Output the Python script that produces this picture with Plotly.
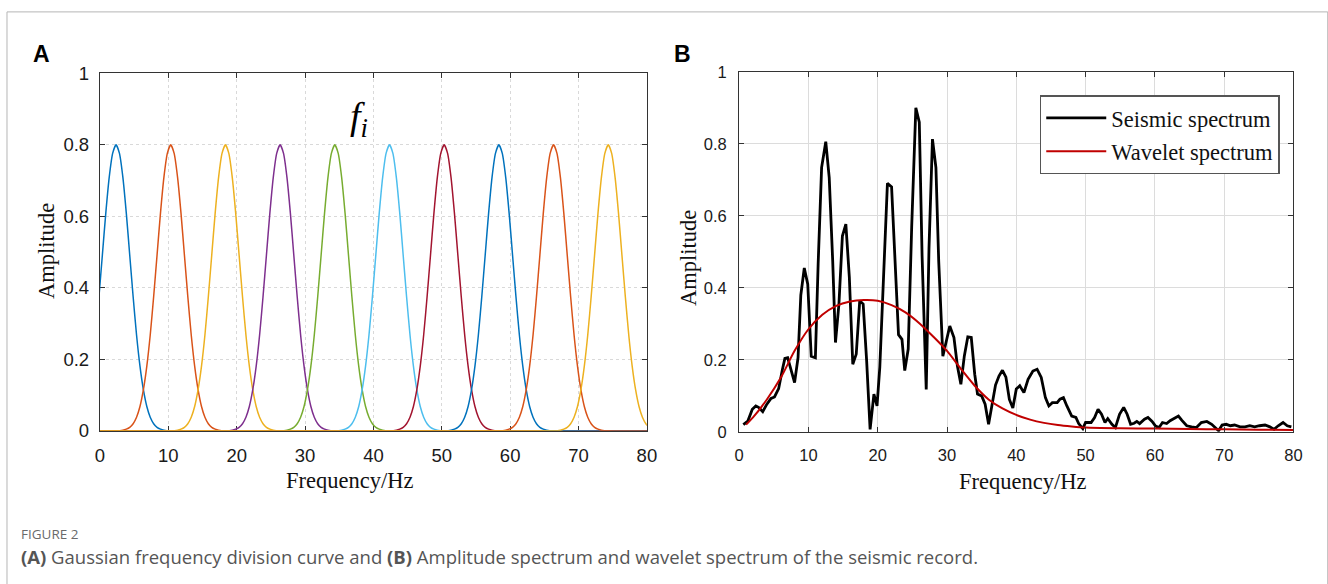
import plotly.graph_objects as go

# ---------------- Data ----------------
# Panel A: Gaussian frequency-division curves (centres)
gauss_centers = [2.35, 10.35, 18.35, 26.35, 34.35, 42.35, 50.35, 58.35, 66.35, 74.35]
gauss_colors = ["#0072BD", "#D95319", "#EDB120", "#7E2F8E", "#77AC30",
                "#4DBEEE", "#A2142F", "#0072BD", "#D95319", "#EDB120"]
# shape of one curve: offset from centre (Hz) -> amplitude
profile_offsets = [-8, -7, -6.5, -6, -5.5, -5, -4.5, -4, -3.5, -3, -2.5, -2, -1.5, -1, -0.5, 0,
                   0.5, 1, 1.5, 2, 2.5, 3, 3.5, 4, 4.5, 5, 5.5, 6, 6.5, 7, 8]
profile_values = [0.0, 0.002, 0.005, 0.010, 0.020, 0.038, 0.068, 0.115, 0.181, 0.268, 0.375, 0.492,
                  0.609, 0.709, 0.776, 0.800, 0.776, 0.709, 0.609, 0.492, 0.375, 0.268, 0.181,
                  0.115, 0.068, 0.038, 0.020, 0.010, 0.005, 0.002, 0.0]

# Panel B: seismic amplitude spectrum
seis_x = [0.6, 1.25, 1.9, 2.4, 2.8, 3.4, 4.0, 4.6, 5.1, 5.7, 6.25, 6.6, 7.0, 7.5, 8.0, 8.5, 8.9,
          9.4, 9.9, 10.4, 11.0, 11.4, 11.9, 12.5, 13.0, 13.5, 13.9, 14.4, 14.9, 15.4, 15.9, 16.4,
          16.9, 17.4, 17.9, 18.4, 18.9, 19.45, 19.9, 20.3, 20.8, 21.4, 22.0, 22.5, 23.0, 23.5,
          23.9, 24.4, 24.9, 25.5, 26.0, 26.4, 27.0, 27.4, 27.9, 28.4, 28.8, 29.4, 29.9, 30.4,
          31.0, 31.5, 32.0, 32.5, 33.0, 33.5, 34.0, 34.4, 35.0, 35.5, 36.0, 36.5, 37.0, 37.5,
          38.0, 38.5, 39.0, 39.5, 40.0, 40.5, 41.1, 41.7, 42.4, 43.0, 43.6, 44.2, 44.7, 45.2,
          45.9, 46.3, 46.8, 47.3, 48.0, 48.6, 49.0, 49.6, 50.0, 50.8, 51.3, 51.8, 52.3, 52.8,
          53.2, 53.8, 54.3, 54.9, 55.5, 56.0, 56.5, 57.0, 57.4, 57.8, 58.5, 59.0, 59.6, 60.1,
          60.6, 61.1, 61.7, 62.2, 62.6, 63.4, 63.9, 64.6, 65.3, 66.0, 66.7, 67.5, 68.2, 68.9,
          69.2, 69.7, 70.3, 70.9, 71.5, 72.3, 73.0, 73.7, 74.4, 75.1, 75.9, 76.6, 77.2, 77.8,
          78.5, 79.1, 79.7]
seis_y = [0.020, 0.030, 0.063, 0.072, 0.068, 0.056, 0.077, 0.093, 0.097, 0.120, 0.174, 0.204,
          0.206, 0.170, 0.137, 0.206, 0.380, 0.455, 0.410, 0.210, 0.206, 0.466, 0.734, 0.806,
          0.706, 0.475, 0.248, 0.355, 0.544, 0.577, 0.430, 0.188, 0.216, 0.364, 0.355, 0.197,
          0.007, 0.105, 0.072, 0.180, 0.400, 0.690, 0.680, 0.475, 0.270, 0.257, 0.170, 0.230,
          0.568, 0.900, 0.860, 0.490, 0.118, 0.510, 0.813, 0.734, 0.475, 0.210, 0.250, 0.294,
          0.262, 0.183, 0.132, 0.211, 0.264, 0.262, 0.160, 0.105, 0.100, 0.077, 0.021, 0.080,
          0.130, 0.155, 0.171, 0.152, 0.090, 0.066, 0.119, 0.128, 0.109, 0.146, 0.169, 0.174,
          0.151, 0.095, 0.072, 0.081, 0.081, 0.091, 0.095, 0.072, 0.044, 0.040, 0.023, 0.009,
          0.026, 0.026, 0.040, 0.063, 0.049, 0.026, 0.037, 0.021, 0.012, 0.049, 0.068, 0.049,
          0.021, 0.024, 0.029, 0.023, 0.035, 0.040, 0.029, 0.016, 0.012, 0.026, 0.023, 0.031,
          0.035, 0.044, 0.032, 0.017, 0.014, 0.012, 0.026, 0.029, 0.021, 0.009, 0.003, 0.019,
          0.021, 0.017, 0.019, 0.014, 0.014, 0.017, 0.014, 0.017, 0.019, 0.014, 0.007, 0.017,
          0.026, 0.017, 0.014]

# Panel B: wavelet spectrum
wav_x = [1, 2, 4, 6, 8, 10, 12, 14, 16, 18, 20, 22, 24, 26, 28, 30, 32, 34, 36, 38, 40, 42,
         44, 46, 48, 50, 55, 60, 65, 70, 75, 80]
wav_y = [0.020, 0.040, 0.090, 0.150, 0.225, 0.285, 0.325, 0.350, 0.362, 0.366, 0.364, 0.352,
         0.332, 0.302, 0.265, 0.225, 0.175, 0.128, 0.090, 0.065, 0.047, 0.034, 0.025, 0.019,
         0.015, 0.012, 0.010, 0.009, 0.008, 0.007, 0.006, 0.005]

x_ticks = [0, 10, 20, 30, 40, 50, 60, 70, 80]
y_ticks = [0, 0.2, 0.4, 0.6, 0.8, 1]
y_tick_labels = ["0", "0.2", "0.4", "0.6", "0.8", "1"]

# ---------------- Figure ----------------
W, H = 1340, 596
# map target picture pixels to figure paper coordinates (compensates page offset/scale)
OX, SX, OY, SY = 3.0, 0.989, 9.6, 0.966
def px(x):
    return ((x - OX) / SX) / W
def py(y):
    return 1 - ((y - OY) / SY) / H

fig = go.Figure()

for c, col in zip(gauss_centers, gauss_colors):
    xs = [-10] + [c + o for o in profile_offsets] + [90]
    ys = [0] + profile_values + [0]
    fig.add_trace(go.Scatter(x=xs, y=ys, mode="lines", xaxis="x", yaxis="y",
                             line=dict(color=col, width=1.5, shape="spline", smoothing=0.6),
                             showlegend=False, hoverinfo="skip"))

fig.add_trace(go.Scatter(x=seis_x, y=seis_y, mode="lines", xaxis="x2", yaxis="y2",
                         name="Seismic spectrum", legendgroup="s",
                         line=dict(color="#000000", width=2.8)))
fig.add_trace(go.Scatter(x=wav_x, y=wav_y, mode="lines", xaxis="x2", yaxis="y2",
                         name="Wavelet spectrum", legendgroup="w",
                         line=dict(color="#C00000", width=2, shape="spline", smoothing=0.8)))

tick_font_a = dict(family="Liberation Sans, Arial, sans-serif", size=18.5, color="#1a1a1a")
tick_font_b = dict(family="Liberation Sans, Arial, sans-serif", size=16.5, color="#1a1a1a")

common_axis = dict(showline=True, linecolor="#333333", linewidth=1.3, mirror="allticks",
                   ticks="inside", ticklen=5, tickcolor="#333333", zeroline=False)

fig.update_layout(
    width=W, height=H, margin=dict(l=0, r=0, t=0, b=0),
    paper_bgcolor="white", plot_bgcolor="white",
    xaxis=dict(domain=[px(98), px(645)], range=[0, 80], tickvals=x_ticks,
               tickfont=tick_font_a, ticklabelstandoff=8, showgrid=True,
               gridcolor="#d9d9d9", griddash="dot", gridwidth=1, layer="below traces",
               anchor="y", **common_axis),
    yaxis=dict(domain=[py(430), py(72)], range=[0, 1], tickvals=y_ticks, ticktext=y_tick_labels,
               tickfont=tick_font_a, ticklabelstandoff=6, showgrid=True,
               gridcolor="#d9d9d9", griddash="dot", gridwidth=1, layer="below traces",
               anchor="x", **common_axis),
    xaxis2=dict(domain=[px(737.3), px(1291.7)], range=[0, 80], tickvals=x_ticks,
                tickfont=tick_font_b, ticklabelstandoff=8, showgrid=True,
                gridcolor="#dcdcdc", gridwidth=1, anchor="y2", **common_axis),
    yaxis2=dict(domain=[py(431), py(70.5)], range=[0, 1], tickvals=y_ticks,
                ticktext=y_tick_labels, tickfont=tick_font_b, ticklabelstandoff=8,
                showgrid=True, gridcolor="#dcdcdc", gridwidth=1, anchor="x2", **common_axis),
    legend=dict(x=px(1278), y=py(94), xanchor="right", yanchor="top",
                bgcolor="white", bordercolor="#555555", borderwidth=1.5,
                font=dict(family="Liberation Serif, Times New Roman, serif", size=22.5,
                          color="#111111"),
                itemwidth=60, tracegroupgap=1),
)

serif = "Liberation Serif, Times New Roman, serif"
annots = [
    dict(text="<b>A</b>", x=px(40), y=py(53), font=dict(family="Liberation Sans, Arial", size=23, color="#000")),
    dict(text="<b>B</b>", x=px(681), y=py(53), font=dict(family="Liberation Sans, Arial", size=23, color="#000")),
    dict(text="Amplitude", x=px(44), y=py(250), textangle=-90, font=dict(family=serif, size=22.5, color="#111")),
    dict(text="Frequency/Hz", x=px(348), y=py(480), font=dict(family=serif, size=22.5, color="#111")),
    dict(text="Amplitude", x=px(686), y=py(257), textangle=-90, font=dict(family=serif, size=22.5, color="#111")),
    dict(text="Frequency/Hz", x=px(1021), y=py(481), font=dict(family=serif, size=22.5, color="#111")),
    dict(text="<i>f</i><sub><i>i</i></sub>", x=px(357), y=py(118),
         font=dict(family=serif, size=38, color="#000")),
]
for a in annots:
    fig.add_annotation(xref="paper", yref="paper", showarrow=False, xanchor="center",
                       yanchor="middle", **a)

cap_font = "Open Sans, Noto Sans, sans-serif"
fig.add_annotation(xref="paper", yref="paper", showarrow=False, xanchor="left", yanchor="middle",
                   x=px(17), y=py(533), text="FIGURE 2",
                   font=dict(family=cap_font, size=13.5, color="#6a6a6a"))
fig.add_annotation(xref="paper", yref="paper", showarrow=False, xanchor="left", yanchor="middle",
                   x=px(17), y=py(556),
                   text="<b>(A)</b> Gaussian frequency division curve and <b>(B)</b> Amplitude spectrum "
                        "and wavelet spectrum of the seismic record.",
                   font=dict(family=cap_font, size=18.5, color="#555555"))

# outer frame
frame = dict(type="line", xref="paper", yref="paper", line=dict(color="#b5b5b5", width=1))
fig.add_shape(x0=px(5), x1=px(5), y0=0, y1=py(10.5), **frame)
fig.add_shape(x0=px(5), x1=px(1326), y0=py(10.5), y1=py(10.5), **frame)
fig.add_shape(x0=px(1326), x1=px(1326), y0=0, y1=py(10.5), **frame)

fig.write_html("out.html")
